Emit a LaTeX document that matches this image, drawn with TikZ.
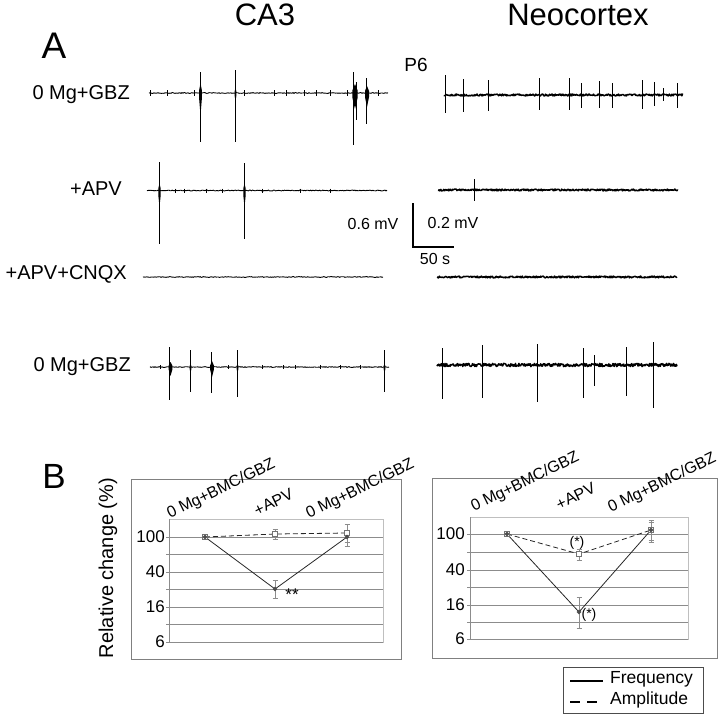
\documentclass[tikz,border=0pt]{standalone}
\usepackage{fontspec}
\setmainfont{Liberation Sans}
\newcommand\fs[1]{\fontsize{#1}{#1}\selectfont}
\newcommand\myspike[3]{\draw[spkline] (#1,#2) -- (#1,#3);}
\newcommand\myburst[5]{\fill ({#1-#5},{#2-#3*0.3}) -- (#1,{#2-#3}) -- ({#1+#5},{#2-#3*0.3}) -- ({#1+#5},{#2+#4*0.3}) -- (#1,{#2+#4}) -- ({#1-#5},{#2+#4*0.3}) -- cycle;}
\newcommand\ebar[3]{\draw[ebarst] (#1,#2) -- (#1,#3) ({#1-2.5},#2) -- ({#1+2.5},#2) ({#1-2.5},#3) -- ({#1+2.5},#3);}
\begin{document}
\begin{tikzpicture}[x=1pt,y=-1pt,
  ca/.style={line width=0.9pt, black},
  nc/.style={line width=1.5pt, black, line join=round},
  spkline/.style={line width=1pt, black},
  lbl/.style={font=\fs{20}, inner sep=0pt, anchor=base east},
  scl/.style={font=\fs{16}, inner sep=0pt},
  grid/.style={draw=black!45, line width=0.8pt},
  frame/.style={draw=black!50, line width=0.9pt},
  parea/.style={draw=black!25, line width=0.7pt},
  ytl/.style={font=\fs{17}, inner sep=0pt, anchor=east},
  cat/.style={font=\fs{16}, inner sep=0pt, anchor=base, rotate=26},
  freq/.style={line width=0.8pt, black!85},
  ampl/.style={line width=0.8pt, black!85, dash pattern=on 5pt off 3pt},
  ebarst/.style={line width=0.7pt, black!45},
  fmark/.style={fill=black!70, minimum size=3.5pt, inner sep=0pt, rectangle, rotate=45},
  amark/.style={draw=black!55, fill=white, minimum size=5pt, inner sep=0pt, rectangle, line width=0.6pt},
  star/.style={font=\fs{14}, inner sep=0pt}
]
\pgfmathsetseed{7}
\useasboundingbox (0,0) rectangle (720,718);

% titles
\node[font=\fs{31}, inner sep=0pt] (tca3) at (265,14.5) {CA3};
\node[font=\fs{31}, inner sep=0pt] (tneo) at (578,15) {Neocortex};
\node[font=\fs{37}, inner sep=0pt] (pa) at (54,46) {A};
\node[font=\fs{35}, inner sep=0pt] (pb) at (54,476) {B};
\node[font=\fs{19}, inner sep=0pt] (p6) at (416,65) {P6};

% row labels
\node[lbl] (l1) at (130,99.5) {0 Mg+GBZ};
\node[lbl] (l2) at (122,195) {+APV};
\node[lbl] (l3) at (127,279) {+APV+CNQX};
\node[lbl] (l4) at (131,371.5) {0 Mg+GBZ};

% ---------- CA3 traces ----------
% row 1
\draw[ca] plot[domain=149:388, samples=240] (\x,{93+0.4*rand});
\foreach \t in {150,167,194,244,274,286,304,316,330,347,378} \draw[ca, line width=0.7pt] (\t,90) -- (\t,96);
\myspike{200}{72}{142} \myburst{200.5}{93}{10}{22}{1.3}
\myspike{235}{70}{142} \myburst{235.5}{93}{5}{8}{0.9}
\myspike{353}{72}{145} \myburst{355}{93}{9}{16}{2.6}
\myspike{356}{82}{120}
\myspike{366}{78}{124} \myburst{367}{93}{7}{14}{2}
% row 2
\draw[ca] plot[domain=147:387, samples=240] (\x,{190.5+0.4*rand});
\foreach \t in {175,184,206,222,262,300,330} \draw[ca, line width=0.6pt] (\t,188.5) -- (\t,192.5);
\myspike{159}{162}{244} \myburst{159.5}{190.5}{7}{16}{1.2}
\myspike{244}{163}{239} \myburst{244.5}{190.5}{7}{16}{1.2}
% row 3
\draw[ca] plot[domain=143:383, samples=240] (\x,{277+0.4*rand});
% row 4
\draw[ca] plot[domain=150:389, samples=240] (\x,{367+0.4*rand});
\foreach \t in {160,228,262,283,295,320,340,360} \draw[ca, line width=0.6pt] (\t,365) -- (\t,369);
\myspike{169}{347}{400} \myburst{170.5}{367}{5}{9}{1.8}
\myspike{190}{350}{392} \myburst{190.5}{367}{3}{6}{0.9}
\myspike{211}{352}{393} \myburst{212}{367}{6}{10}{1.8}
\myspike{237}{350}{397} \myburst{237.5}{367}{3}{6}{0.9}
\myspike{384}{350}{392} \myburst{384.5}{367}{3}{6}{0.9}

% ---------- Neocortex traces ----------
% row 1
\draw[nc] plot[domain=444:683, samples=420] (\x,{95+1.0*rand});
\foreach \sx/\su/\sd in {445/75/113,463/79/112,488/80/111,539/78/110,569/78/110,581/83/108,599/81/108,612/83/108,642/80/109,654/82/106,663/88/101,677/83/108}
  \myspike{\sx}{\su}{\sd};
% row 2
\draw[nc] plot[domain=438:678, samples=420] (\x,{190+0.9*rand});
\myspike{474}{179}{201}
% row 3
\draw[nc] plot[domain=437:677, samples=420] (\x,{277+0.9*rand});
% row 4
\draw[nc] plot[domain=437:677, samples=420] (\x,{365+1.6*rand});
\foreach \sx/\su/\sd in {442/348/399,482/345/398,537/344/402,583/348/398,594/355/386,626/347/396,653/342/408}
  \myspike{\sx}{\su}{\sd};

% scale bar
\coordinate (sbt) at (413,203);
\coordinate (sbc) at (413,247);
\coordinate (sbr) at (454,247);
\draw[line width=1.3pt] (sbt) -- (sbc) -- (sbr);
\node[scl] (s06) at (373,224) {0.6 mV};
\node[scl] (s02) at (453,223) {0.2 mV};
\node[scl] (s50) at (435,259) {50 s};

% ---------- Panel B ----------
\node[font=\fs{20}, inner sep=0pt, rotate=90] (ylab) at (108,568) {Relative change (\%)};

% left chart
\draw[frame] (131,479) rectangle (401,659);
\draw[parea] (169,519) rectangle (383,642);
\foreach \g in {537,554.5,572,589.5,607,624.5,642} \draw[grid] (166,\g) -- (383,\g);
\draw[grid] (169,519) -- (169,642);
\node[ytl] (ly100) at (165,537) {100};
\node[ytl] (ly40) at (165,572) {40};
\node[ytl] (ly16) at (165,607) {16};
\node[ytl] (ly6) at (165,642) {6};
\node[cat] (lc1) at (223,493) {0 Mg+BMC/GBZ};
\node[cat] (lc2) at (276,507) {+APV};
\node[cat] (lc3) at (362,493) {0 Mg+BMC/GBZ};
\ebar{275}{580}{598}
\ebar{347}{530}{546}
\ebar{275}{529}{539}
\ebar{347}{524}{542}
\coordinate (lf1) at (205,537); \coordinate (lf2) at (275,589); \coordinate (lf3) at (347,537);
\coordinate (la1) at (205,537); \coordinate (la2) at (275,534); \coordinate (la3) at (347,533);
\draw[freq] (lf1) -- (lf2) -- (lf3);
\draw[ampl] (la1) -- (la2) -- (la3);
\foreach \p in {la1,la2,la3} \node[amark] at (\p) {};
\foreach \p in {lf1,lf2,lf3} \node[fmark] at (\p) {};
\node[star, font=\fs{17}] (lstar) at (292,595) {**};

% right chart
\draw[frame] (432,478) rectangle (717,658);
\draw[parea] (470,517) rectangle (688,639);
\foreach \g in {534,552,570,587.5,605,622,639} \draw[grid] (467,\g) -- (688,\g);
\draw[grid] (470,517) -- (470,639);
\node[ytl] (ry100) at (465,534) {100};
\node[ytl] (ry40) at (465,570) {40};
\node[ytl] (ry16) at (465,605) {16};
\node[ytl] (ry6) at (465,639) {6};
\node[cat] (rc1) at (527,486) {0 Mg+BMC/GBZ};
\node[cat] (rc2) at (578,501) {+APV};
\node[cat] (rc3) at (664,487) {0 Mg+BMC/GBZ};
\ebar{579}{597}{628}
\ebar{651}{520}{540}
\ebar{579}{549}{560}
\ebar{651}{522}{542}
\coordinate (rf1) at (507,534); \coordinate (rf2) at (579,612); \coordinate (rf3) at (651,530);
\coordinate (ra1) at (507,534); \coordinate (ra2) at (579,554); \coordinate (ra3) at (651,530);
\draw[freq] (rf1) -- (rf2) -- (rf3);
\draw[ampl] (ra1) -- (ra2) -- (ra3);
\foreach \p in {ra1,ra2,ra3} \node[amark] at (\p) {};
\foreach \p in {rf1,rf2,rf3} \node[fmark] at (\p) {};
\node[star] (rstar1) at (577,543) {(*)};
\node[star] (rstar2) at (589,615) {(*)};

% legend
\draw[line width=0.8pt, black!70] (563,667) rectangle (703,713);
\coordinate (lg1a) at (570,681); \coordinate (lg1b) at (603,681);
\coordinate (lg2a) at (570,702); \coordinate (lg2b) at (603,702);
\draw[line width=1.3pt] (lg1a) -- (lg1b);
\draw[line width=1.3pt, dash pattern=on 10pt off 7pt] (lg2a) -- (lg2b);
\node[font=\fs{17.5}, inner sep=0pt, anchor=west] (lgf) at (610,679) {Frequency};
\node[font=\fs{17.5}, inner sep=0pt, anchor=west] (lga) at (610,700) {Amplitude};
\end{tikzpicture}
\end{document}
